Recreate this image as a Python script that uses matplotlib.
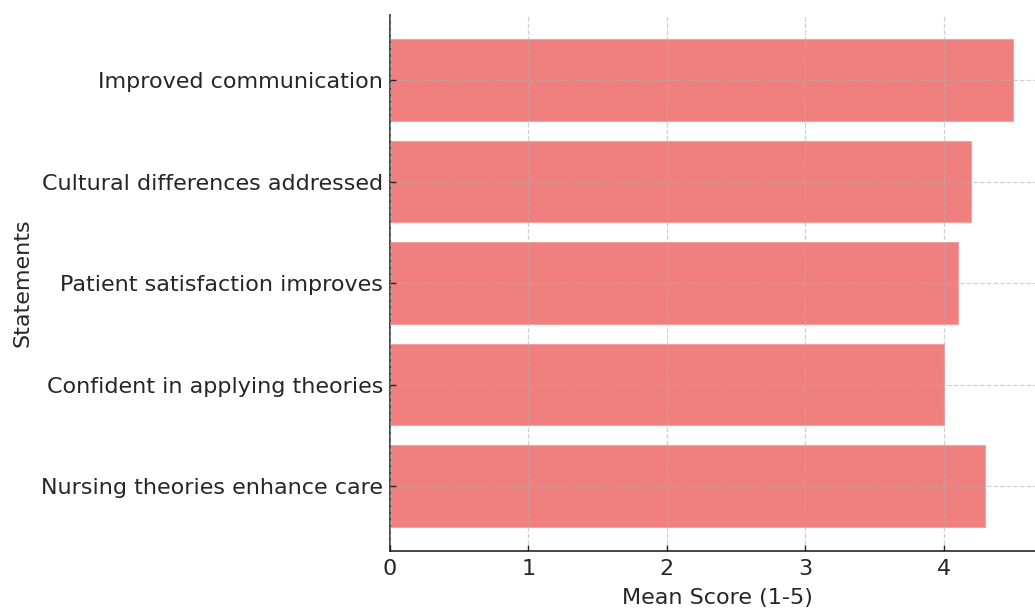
from matplotlib import pyplot as plt
import numpy as np

# Statements (bottom to top) and mean scores
STATEMENTS = [
    "Nursing theories enhance care",
    "Confident in applying theories",
    "Patient satisfaction improves",
    "Cultural differences addressed",
    "Improved communication",
]
SCORES = [4.3, 4.0, 4.1, 4.2, 4.5]
XTICKS = [0, 1, 2, 3, 4]

TEXT_COLOR = "#262626"

fig = plt.figure(figsize=(10.35, 6.09), dpi=100)
ax = fig.add_axes([0.3768, 0.0952, 0.632, 0.880])

y = np.arange(len(STATEMENTS))
ax.barh(y, SCORES, height=0.8, color="lightcoral", edgecolor="#f4a0a0", linewidth=0.8, zorder=1)

ax.set_yticks(y)
ax.set_yticklabels(STATEMENTS)
ax.set_xticks(XTICKS)
ax.set_xlim(0, max(SCORES) * 1.05)

ax.grid(True, linestyle="--", color="#b0b0b0", alpha=0.6, linewidth=0.9, zorder=2)
ax.set_axisbelow(False)

for side in ["top", "right"]:
    ax.spines[side].set_visible(False)
for side in ["left", "bottom"]:
    ax.spines[side].set_color(TEXT_COLOR)
    ax.spines[side].set_linewidth(1.2)

ax.tick_params(axis="both", labelsize=16, colors=TEXT_COLOR, direction="in", length=4, width=1)
ax.tick_params(axis="x", pad=6)
ax.tick_params(axis="y", pad=5)
ax.set_xlabel("Mean Score (1-5)", fontsize=16, color=TEXT_COLOR, labelpad=6)
ax.set_ylabel("Statements", fontsize=16, color=TEXT_COLOR, labelpad=6)

fig.savefig("out.png", dpi=100)
